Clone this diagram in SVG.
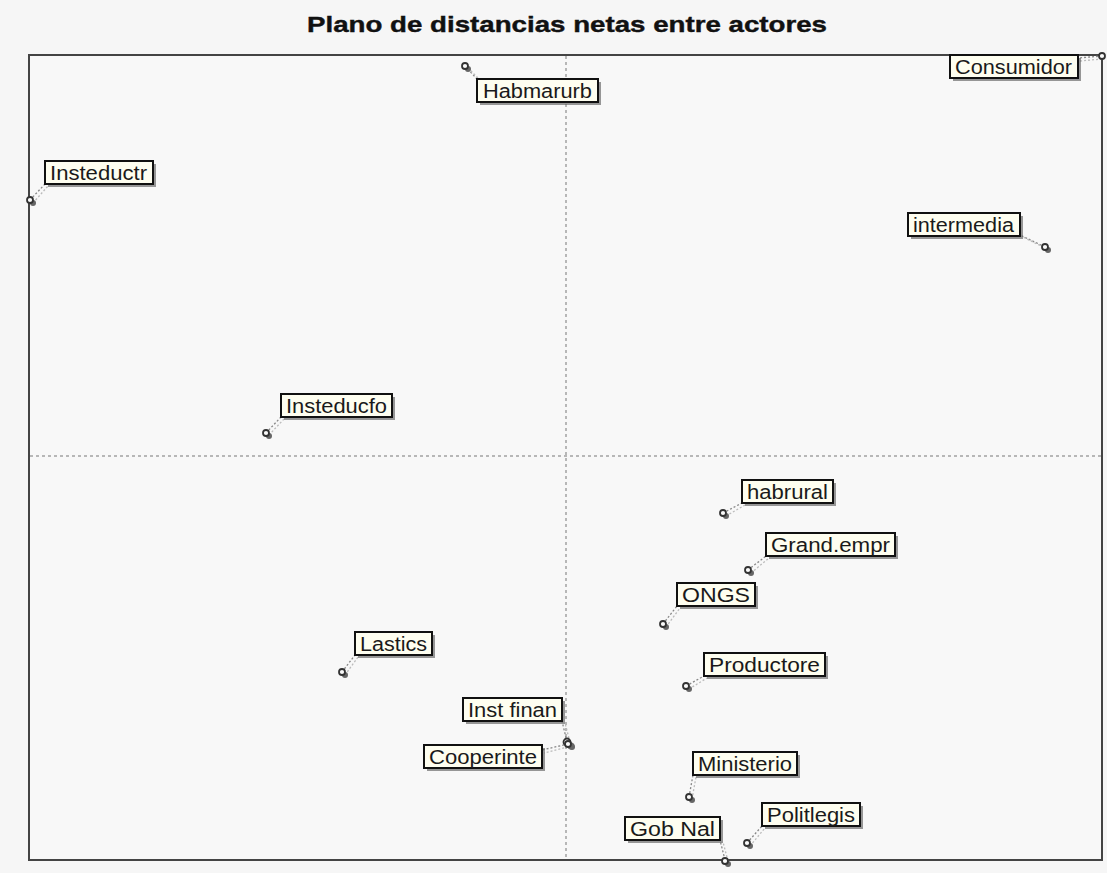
<svg xmlns="http://www.w3.org/2000/svg" width="1107" height="873" viewBox="0 0 1107 873">
<style>
.box{fill:#fefef0;stroke:#111;stroke-width:2}
.sh{fill:#555;opacity:.6}
.lbl{font-family:"Liberation Sans",Arial,sans-serif;font-size:20px;fill:#1a1a1a}
.pt{fill:#fafafa;stroke:#333;stroke-width:1.8}
.psh{fill:#666}
.con{stroke:#888;stroke-width:1.3;stroke-dasharray:2,2;fill:none}
.con2{stroke:#bbb;stroke-width:1.3;stroke-dasharray:2,2;fill:none}
.axis{stroke:#777;stroke-width:1;stroke-dasharray:3,3}
</style>
<rect x="0" y="0" width="1107" height="873" fill="#f6f6f6"/>
<text x="567" y="32" text-anchor="middle" font-family="Liberation Sans,Arial,sans-serif" font-size="22" font-weight="bold" fill="#111" stroke="#111" stroke-width="0.4" textLength="520" lengthAdjust="spacingAndGlyphs">Plano de distancias netas entre actores</text>
<rect x="29" y="55" width="1073" height="805" fill="#f8f8f8" stroke="#444" stroke-width="2"/>
<line class="axis" x1="566" y1="56" x2="566" y2="859"/>
<line class="axis" x1="30" y1="456" x2="1101" y2="456"/>
<g id="connectors">
<line class="con" x1="465" y1="66" x2="477" y2="79"/><line class="con2" x1="468" y1="68" x2="480" y2="80"/>
<line class="con" x1="30" y1="200" x2="45" y2="184"/><line class="con2" x1="33" y1="203" x2="48" y2="186"/>
<line class="con" x1="1102" y1="56" x2="1078" y2="58"/><line class="con2" x1="1102" y1="59" x2="1080" y2="61"/>
<line class="con" x1="1045" y1="247" x2="1020" y2="235"/><line class="con2" x1="1047" y1="249" x2="1023" y2="237"/>
<line class="con" x1="266" y1="433" x2="281" y2="417"/><line class="con2" x1="269" y1="435" x2="284" y2="419"/>
<line class="con" x1="723" y1="513" x2="742" y2="503"/><line class="con2" x1="726" y1="516" x2="745" y2="505"/>
<line class="con" x1="748" y1="570" x2="766" y2="556"/><line class="con2" x1="751" y1="573" x2="769" y2="558"/>
<line class="con" x1="663" y1="624" x2="677" y2="606"/><line class="con2" x1="666" y1="627" x2="680" y2="608"/>
<line class="con" x1="686" y1="686" x2="704" y2="676"/><line class="con2" x1="689" y1="689" x2="707" y2="678"/>
<line class="con" x1="342" y1="672" x2="355" y2="655"/><line class="con2" x1="345" y1="675" x2="358" y2="657"/>
<line class="con" x1="567" y1="742" x2="562" y2="721"/><line class="con2" x1="570" y1="742" x2="565" y2="723"/>
<line class="con" x1="568" y1="744" x2="542" y2="750"/><line class="con2" x1="568" y1="747" x2="544" y2="753"/>
<line class="con" x1="689" y1="797" x2="693" y2="775"/><line class="con2" x1="692" y1="799" x2="696" y2="777"/>
<line class="con" x1="747" y1="843" x2="762" y2="826"/><line class="con2" x1="750" y1="846" x2="765" y2="828"/>
<line class="con" x1="725" y1="860" x2="720" y2="840"/><line class="con2" x1="728" y1="861" x2="723" y2="842"/>
</g>
<g id="habmarurb"><circle class="psh" cx="468" cy="69" r="3"/><circle class="pt" cx="465" cy="66" r="3"/><rect class="sh" x="480" y="82" width="121" height="23"/><rect class="box" x="477" y="79" width="121" height="23"/><text class="lbl" x="483" y="98" textLength="109" lengthAdjust="spacingAndGlyphs">Habmarurb</text></g>
<g id="insteductr"><circle class="psh" cx="33" cy="203" r="3"/><circle class="pt" cx="30" cy="200" r="3"/><rect class="sh" x="48" y="164" width="108" height="23"/><rect class="box" x="45" y="161" width="108" height="23"/><text class="lbl" x="50" y="180" textLength="97" lengthAdjust="spacingAndGlyphs">Insteductr</text></g>
<g id="consumidor"><circle class="pt" cx="1102" cy="56" r="3"/><rect class="sh" x="953" y="58" width="128" height="23"/><rect class="box" x="950" y="55" width="128" height="23"/><text class="lbl" x="955" y="74" textLength="117" lengthAdjust="spacingAndGlyphs">Consumidor</text></g>
<g id="intermedia"><circle class="psh" cx="1048" cy="250" r="3"/><circle class="pt" cx="1045" cy="247" r="3"/><rect class="sh" x="911" y="216" width="112" height="23"/><rect class="box" x="908" y="213" width="112" height="23"/><text class="lbl" x="913" y="232" textLength="101" lengthAdjust="spacingAndGlyphs">intermedia</text></g>
<g id="insteducfo"><circle class="psh" cx="269" cy="436" r="3"/><circle class="pt" cx="266" cy="433" r="3"/><rect class="sh" x="284" y="397" width="111" height="23"/><rect class="box" x="281" y="394" width="111" height="23"/><text class="lbl" x="286" y="413" textLength="101" lengthAdjust="spacingAndGlyphs">Insteducfo</text></g>
<g id="habrural"><circle class="psh" cx="726" cy="516" r="3"/><circle class="pt" cx="723" cy="513" r="3"/><rect class="sh" x="745" y="483" width="91" height="23"/><rect class="box" x="742" y="480" width="91" height="23"/><text class="lbl" x="747" y="499" textLength="81" lengthAdjust="spacingAndGlyphs">habrural</text></g>
<g id="grandempr"><circle class="psh" cx="751" cy="573" r="3"/><circle class="pt" cx="748" cy="570" r="3"/><rect class="sh" x="769" y="536" width="129" height="23"/><rect class="box" x="766" y="533" width="129" height="23"/><text class="lbl" x="771" y="552" textLength="119" lengthAdjust="spacingAndGlyphs">Grand.empr</text></g>
<g id="ongs"><circle class="psh" cx="666" cy="627" r="3"/><circle class="pt" cx="663" cy="624" r="3"/><rect class="sh" x="680" y="586" width="78" height="23"/><rect class="box" x="677" y="583" width="78" height="23"/><text class="lbl" x="682" y="602" textLength="68" lengthAdjust="spacingAndGlyphs">ONGS</text></g>
<g id="productore"><circle class="psh" cx="689" cy="689" r="3"/><circle class="pt" cx="686" cy="686" r="3"/><rect class="sh" x="707" y="656" width="121" height="23"/><rect class="box" x="704" y="653" width="121" height="23"/><text class="lbl" x="709" y="672" textLength="111" lengthAdjust="spacingAndGlyphs">Productore</text></g>
<g id="lastics"><circle class="psh" cx="345" cy="675" r="3"/><circle class="pt" cx="342" cy="672" r="3"/><rect class="sh" x="358" y="635" width="77" height="23"/><rect class="box" x="355" y="632" width="77" height="23"/><text class="lbl" x="360" y="651" textLength="67" lengthAdjust="spacingAndGlyphs">Lastics</text></g>
<g id="instfinan"><circle class="psh" cx="571" cy="746" r="3.5"/><circle class="pt" cx="567" cy="742" r="3.5"/><rect class="sh" x="466" y="701" width="99" height="23"/><rect class="box" x="463" y="698" width="99" height="23"/><text class="lbl" x="468" y="717" textLength="89" lengthAdjust="spacingAndGlyphs">Inst finan</text></g>
<g id="cooperinte"><circle class="psh" cx="572" cy="747" r="3"/><circle class="pt" cx="568" cy="744" r="3"/><rect class="sh" x="427" y="748" width="118" height="23"/><rect class="box" x="424" y="745" width="118" height="23"/><text class="lbl" x="429" y="764" textLength="108" lengthAdjust="spacingAndGlyphs">Cooperinte</text></g>
<g id="ministerio"><circle class="psh" cx="692" cy="800" r="3"/><circle class="pt" cx="689" cy="797" r="3"/><rect class="sh" x="696" y="755" width="104" height="23"/><rect class="box" x="693" y="752" width="104" height="23"/><text class="lbl" x="698" y="771" textLength="94" lengthAdjust="spacingAndGlyphs">Ministerio</text></g>
<g id="politlegis"><circle class="psh" cx="750" cy="846" r="3"/><circle class="pt" cx="747" cy="843" r="3"/><rect class="sh" x="765" y="806" width="98" height="23"/><rect class="box" x="762" y="803" width="98" height="23"/><text class="lbl" x="767" y="822" textLength="88" lengthAdjust="spacingAndGlyphs">Politlegis</text></g>
<g id="gobnal"><circle class="psh" cx="728" cy="864" r="3"/><circle class="pt" cx="725" cy="861" r="3"/><rect class="sh" x="628" y="820" width="95" height="23"/><rect class="box" x="625" y="817" width="95" height="23"/><text class="lbl" x="630" y="836" textLength="85" lengthAdjust="spacingAndGlyphs">Gob Nal</text></g>
</svg>
